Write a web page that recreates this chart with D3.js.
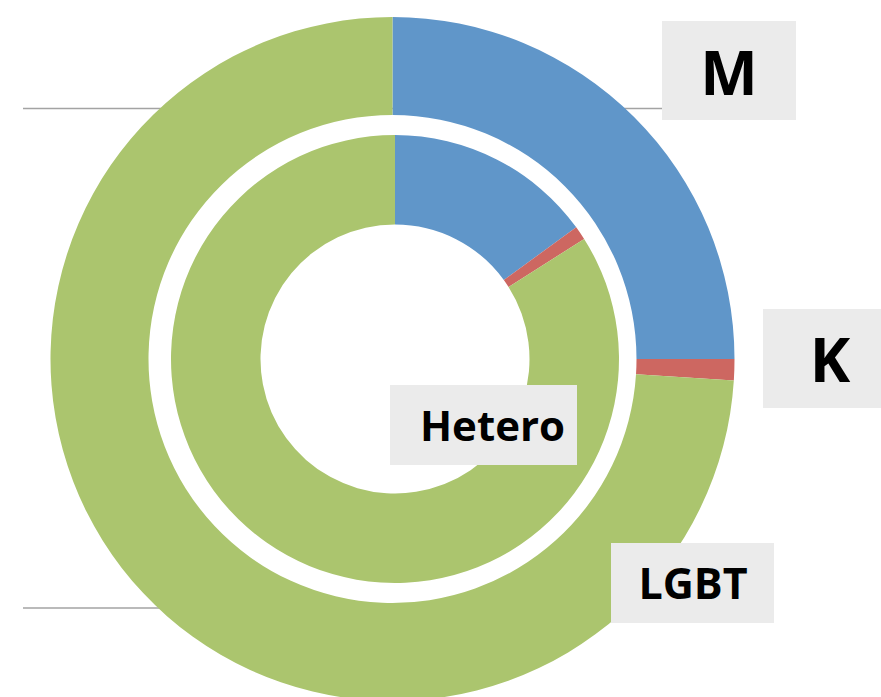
<!doctype html>
<html>
<head>
  <meta charset="utf-8">
  <title>Doughnut</title>
  <script src="https://d3js.org/d3.v7.min.js"></script>
  <style>
    body { margin: 0; background: #fff; }
    text { font-family: "Open Sans", sans-serif; font-weight: 700; fill: #000; }
  </style>
</head>
<body>
  <div id="chart"></div>
  <script>
    // slice order: blue, red, green
    var categories = ["M", "K", "LGBT"];
    var outerValues = [25, 1, 74];
    var innerValues = [15, 1, 84];
    var colors = ["#6096c9", "#cd6761", "#abc56e"];
    var labelTexts = ["M", "K", "Hetero", "LGBT"];

    var width = 881, height = 697;

    var svg = d3.select("#chart")
      .append("svg")
      .attr("width", width)
      .attr("height", height);

    // grey horizontal lines behind the rings
    var lineY = d3.scaleLinear().domain([0, 1]).range([108.5, 608]);
    svg.selectAll(".hline")
      .data([0, 1])
      .enter().append("line")
      .attr("x1", 23).attr("x2", 662)
      .attr("y1", function (d) { return lineY(d); })
      .attr("y2", function (d) { return lineY(d); })
      .attr("stroke", "#a3a3a3")
      .attr("stroke-width", 1.6);

    var pie = d3.pie().sort(null).value(function (d) { return d; });

    // outer ring
    var outerArc = d3.arc().innerRadius(244).outerRadius(342);
    svg.append("g")
      .attr("transform", "translate(392.5,359)")
      .selectAll("path")
      .data(pie(outerValues))
      .enter().append("path")
      .attr("d", outerArc)
      .attr("fill", function (d, i) { return colors[i]; });

    // inner ring
    var innerArc = d3.arc().innerRadius(134.5).outerRadius(224);
    svg.append("g")
      .attr("transform", "translate(395,359)")
      .selectAll("path")
      .data(pie(innerValues))
      .enter().append("path")
      .attr("d", innerArc)
      .attr("fill", function (d, i) { return colors[i]; });

    // label boxes (placed by hand like the original)
    var boxes = [
      { x: 662, y: 21, w: 134, h: 99, size: 61, tx: 729, ty: 95 },
      { x: 763, y: 309, w: 118, h: 99, size: 61, tx: 830, ty: 382 },
      { x: 390, y: 385, w: 187, h: 80, size: 42, tx: 492.5, ty: 441 },
      { x: 611, y: 543, w: 163, h: 80, size: 43, tx: 693, ty: 599 }
    ];

    var lab = svg.selectAll(".lab")
      .data(boxes)
      .enter().append("g")
      .attr("class", "lab");

    lab.append("rect")
      .attr("x", function (d) { return d.x; })
      .attr("y", function (d) { return d.y; })
      .attr("width", function (d) { return d.w; })
      .attr("height", function (d) { return d.h; })
      .attr("fill", "#ebebeb");

    lab.append("text")
      .attr("x", function (d) { return d.tx; })
      .attr("y", function (d) { return d.ty; })
      .attr("text-anchor", "middle")
      .style("font-size", function (d) { return d.size + "px"; })
      .text(function (d, i) { return labelTexts[i]; });
  </script>
</body>
</html>
